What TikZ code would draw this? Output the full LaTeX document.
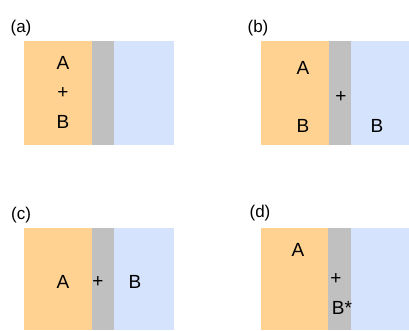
\documentclass[tikz,border=0pt]{standalone}
\usepackage{fontspec}
\setmainfont{Liberation Sans}
\definecolor{orng}{RGB}{255,210,145}
\definecolor{gry}{RGB}{192,192,192}
\definecolor{blu}{RGB}{213,227,252}
\begin{document}
\begin{tikzpicture}[x=1pt,y=-1pt,
  lbl/.style={inner sep=0pt,font=\fontsize{17}{20}\selectfont},
  txt/.style={inner sep=0pt,font=\fontsize{19}{22}\selectfont}]
\useasboundingbox (0,0) rectangle (409,330);
% (a)
\fill[orng] (24,41) rectangle (92,145);
\fill[gry] (92,41) rectangle (114,145);
\fill[blu] (114,41) rectangle (174,145);
% (b)
\fill[orng] (261,41) rectangle (329,145);
\fill[gry] (329,41) rectangle (351,145);
\fill[blu] (351,41) rectangle (409,145);
% (c)
\fill[orng] (24,228) rectangle (92,330);
\fill[gry] (92,228) rectangle (114,330);
\fill[blu] (114,228) rectangle (174,330);
% (d)
\fill[orng] (261,228) rectangle (328,330);
\fill[gry] (328,228) rectangle (351,330);
\fill[blu] (351,228) rectangle (409,330);
% labels
\node[lbl] (la) at (21,28) {(a)};
\node[lbl] (lb) at (258,28) {(b)};
\node[lbl] (lc) at (21,215) {(c)};
\node[lbl] (ld) at (260,213) {(d)};
% (a) text
\node[txt] (aA) at (63,63) {A};
\node[txt] (aP) at (63,93) {+};
\node[txt] (aB) at (63,122) {B};
% (b) text
\node[txt] (bA) at (303,68) {A};
\node[txt] (bP) at (341,97) {+};
\node[txt] (bB) at (303,126) {B};
\node[txt] (bB2) at (377,126) {B};
% (c) text
\node[txt] (cA) at (63,282) {A};
\node[txt] (cP) at (98,282) {+};
\node[txt] (cB) at (135,282) {B};
% (d) text
\node[txt] (dA) at (298,250) {A};
\node[txt] (dP) at (336,279) {+};
\node[txt] (dB) at (342,308) {B*};
\end{tikzpicture}
\end{document}
